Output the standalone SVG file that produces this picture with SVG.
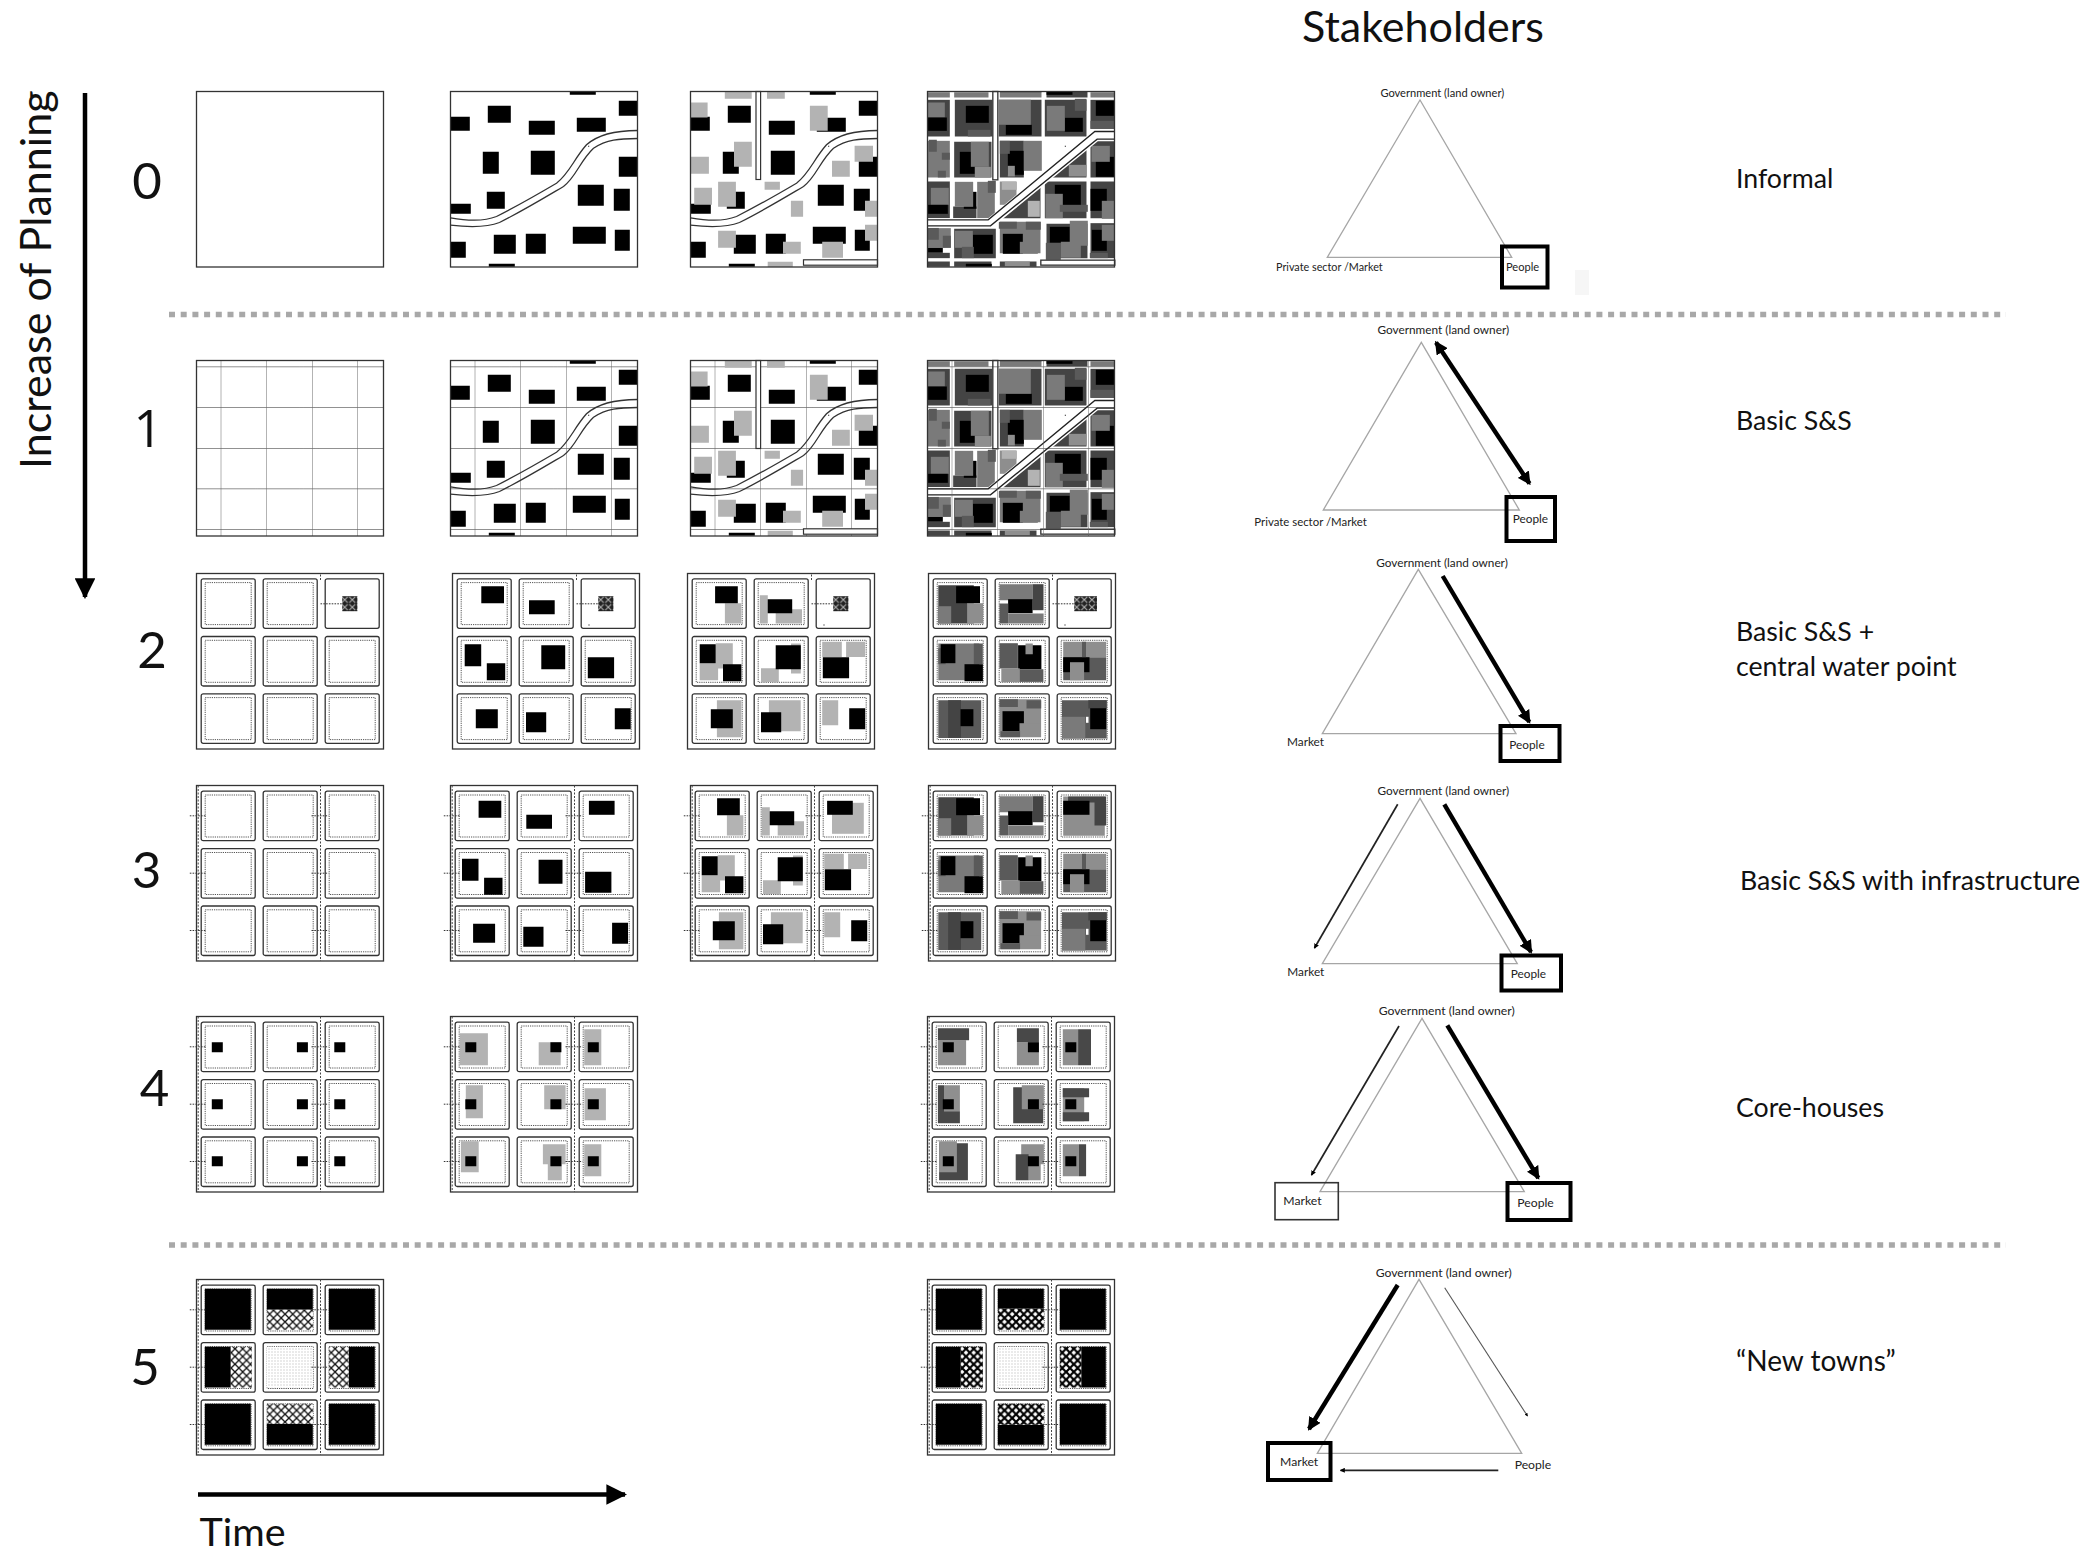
<svg xmlns="http://www.w3.org/2000/svg" width="2089" height="1551" viewBox="0 0 2089 1551">
<style>
text{font-family:"Lato","Open Sans","Liberation Sans",sans-serif;fill:#222}
.big{font-size:26.7px;fill:#111}
.sm{font-size:11.1px;fill:#222}
.n{font-size:51px;fill:#111;text-anchor:middle}
.k{fill:#000}.d{fill:#444}.m{fill:#5a5a5a}.g{fill:#7a7a7a}.l{fill:#8e8e8e}.v{fill:#b3b3b3}.w{fill:#fff}
.p{fill:none;stroke:#333;stroke-width:1.3}
.c{fill:#fff;stroke:#333;stroke-width:1.3}
.i{fill:none;stroke:#555;stroke-width:1;stroke-dasharray:1.2 1}
.vd{fill:none;stroke:#444;stroke-width:1;stroke-dasharray:2 1.5}
.st{fill:none;stroke:#333;stroke-width:1;stroke-dasharray:1.6 1.2}
.gh{fill:none;stroke:#222;stroke-width:1;stroke-dasharray:1 1}
.gv{fill:none;stroke:#666;stroke-width:1;stroke-dasharray:1 1}
.rd{fill:none;stroke:#333;stroke-width:1.3}
.rb{fill:#fff;stroke:#333;stroke-width:1.2}
.sep{fill:none;stroke:#a8a8a8;stroke-width:5.5;stroke-dasharray:6 5.7}
.tri{fill:none;stroke:#a6a6a6;stroke-width:1.3}
.box{fill:none;stroke:#000;stroke-width:4}
.thick{fill:none;stroke:#000;stroke-width:4.4;marker-end:url(#ah)}
.thin{fill:none;stroke:#222;stroke-width:1.7;marker-end:url(#ah)}
.main{fill:none;stroke:#000;stroke-width:4.5;marker-end:url(#ahb)}
</style>
<defs>
<marker id="ah" viewBox="0 0 10 10" refX="8.5" refY="5" markerWidth="3" markerHeight="3" orient="auto-start-reverse"><path d="M0 0L10 5L0 10z" fill="#000"/></marker>
<marker id="ahb" viewBox="0 0 10 10" refX="9" refY="5" markerWidth="4.6" markerHeight="4.6" orient="auto"><path d="M0 0L10 5L0 10z" fill="#000"/></marker>
<pattern id="h1" width="7.7" height="7.7" patternUnits="userSpaceOnUse"><rect width="7.7" height="7.7" fill="#fff"/><path d="M0 0L7.7 7.7M7.7 0L0 7.7" stroke="#111" stroke-width="1.3"/></pattern>
<pattern id="h2" width="7.7" height="7.7" patternUnits="userSpaceOnUse"><rect width="7.7" height="7.7" fill="#fff"/><path d="M0 0L7.7 7.7M7.7 0L0 7.7" stroke="#000" stroke-width="2.2"/></pattern>
<pattern id="hw" width="7.6" height="7.5" patternUnits="userSpaceOnUse"><rect width="7.6" height="7.5" fill="#222"/><path d="M.8 .8L6.8 6.7M6.8 .8L.8 6.7" stroke="#bbb" stroke-width="1"/></pattern>
<pattern id="hd" width="3" height="3" patternUnits="userSpaceOnUse"><rect width="3" height="3" fill="#fff"/><rect width="1" height="1" fill="#aaa"/></pattern>

<g id="cell"><rect class="c" width="54" height="49.5" rx="2"/></g>
<g id="cin"><use href="#cell"/><rect class="i" x="4" y="3.8" width="46" height="42"/></g>

<g id="f3">
<rect class="p" x="0" y="0" width="187" height="175.5" fill="#fff"/>
<use href="#cin" x="4.7" y="5.7"/><use href="#cin" x="66.7" y="5.7"/><use href="#cin" x="128.7" y="5.7"/>
<use href="#cin" x="4.7" y="63.2"/><use href="#cin" x="66.7" y="63.2"/><use href="#cin" x="128.7" y="63.2"/>
<use href="#cin" x="4.7" y="120.5"/><use href="#cin" x="66.7" y="120.5"/><use href="#cin" x="128.7" y="120.5"/>
<path class="vd" d="M1.7 0V175.5M124 0V175.5"/>
</g>
<path id="st" class="st" d="M-6.7 30.3H9M115 30.3H132M-6.7 87.7H9M115 87.7H132M-6.7 145H9M115 145H132"/>

<g id="f2">
<rect class="p" x="0" y="0" width="187" height="175.5" fill="#fff"/>
<use href="#cin" x="4.7" y="5.3"/><use href="#cin" x="66.7" y="5.3"/><use href="#cell" x="128.7" y="5.3"/>
<use href="#cin" x="4.7" y="63"/><use href="#cin" x="66.7" y="63"/><use href="#cin" x="128.7" y="63"/>
<use href="#cin" x="4.7" y="120.3"/><use href="#cin" x="66.7" y="120.3"/><use href="#cin" x="128.7" y="120.3"/>
<path class="vd" d="M124 1V8"/>
<path class="st" d="M124 30.3H146"/>
</g>

<path id="mk" class="k" d="M119.3 0h26v3.3h-26zM168.3 9.3h18.7v15h-18.7zM0 25.3h19.3v14h-19.3zM37.3 14.3h23v17h-23zM78.3 29.3h26v14h-26zM126.3 26.3h29v14h-29zM32.3 60.3h16v22h-16zM80.3 59.3h24v24h-24zM168.3 65.3h18.7v20h-18.7zM36.3 100.3h18v17h-18zM0 112.3h20.3v10h-20.3zM127.3 93.3h26v21h-26zM163.3 97.3h16v22h-16zM122.3 135.3h33v17h-33zM164.3 138.3h15v21h-15zM43.3 143.3h22v19h-22zM75.3 142.3h20v20h-20zM0 150.3h15.3v16h-15.3zM38.3 172.3h26v3h-26zM137.7 54.3h1v1h-1z"/>
<path id="mg" class="v" d="M34.3 0h26.9v7.3h-26.9zM76.5 0h17.8v7.3h-17.8zM0 11h17.1v15h-17.1zM119.4 14.3h17.8v25h-17.8zM43.5 50.3h17.8v25h-17.8zM164.1 54.3h18.4v16h-18.4zM0 65.3h18.4v17h-18.4zM141.5 69.3h17.8v16h-17.8zM74.1 90.3h15.3v8h-15.3zM3.7 96.3h17.8v17h-17.8zM27.6 90.3h17.8v25h-17.8zM100.4 109.3h12.2v16h-12.2zM174.5 109.3h12.5v16h-12.5zM174.5 133.3h12.5v16h-12.5zM27.6 139.3h17.8v17h-17.8zM92.5 150.3h17.8v12h-17.8zM131.7 150.3h20.8v16h-20.8zM77.2 170.3h25.1v5.2h-25.1z"/>
<path id="road" class="rd" d="M0 126.3C19 129.7 36 129 46 125C69 113.3 89 101.7 106 91.7C119 81.7 123 68 136 53.3C149 41.7 169 39 187 39M0 133.7C23 136.3 39 135 49 131C73 119 96 105 113 95C126 85 129 70 143 56.7C156 48 169 47 187 47"/>
<g id="roads2"><rect class="rb" x="65.5" y="0" width="4.6" height="88"/><rect class="rb" x="113" y="168.3" width="74" height="5.4"/></g>
<g id="grid"><path class="gh" d="M0 6.3H187M0 47H187M0 88H187M0 128.3H187M0 169H187"/><path class="gv" d="M24.5 0V175.5M70 0V175.5M116 0V175.5M161 0V175.5"/></g>

<g id="city" transform="scale(.3333) translate(-23,-35)">
<path class="g" d="M23 37H90V53H23zM103 37H206V53H103zM240 37H365V53H240zM512 37H585V53H512z"/>
<path class="d" d="M240 35H365V38H240zM380 35H503V53H380z"/><path class="k" d="M380 35H458V45H380z"/>
<path class="d" d="M23 60H90V170H23z"/><path class="g" d="M23 68H75V113H23z"/><path class="k" d="M23 113H81V153H23z"/>
<path class="d" d="M105 60H218V170H105z"/><path class="k" d="M138 78H207V129H138z"/><path class="m" d="M144 150H212V170H144z"/>
<path class="d" d="M237 60H365V170H237z"/><path class="k" d="M258 135H336V165H258z"/><path class="g" d="M237 60H333V135H237z"/>
<path class="d" d="M375 60H500V170H375z"/><path class="k" d="M435 114H489V156H435z"/><path class="g" d="M381 78H435V153H381z"/><path class="m" d="M465 57H500V93H465z"/>
<path class="d" d="M512 60H585V147H512z"/><path class="k" d="M528 63H585V108H528z"/><path class="m" d="M512 123H585V147H512z"/>

<path class="g" d="M23 183H90V293H23z"/><path class="m" d="M27 180H51V216H27zM66 219H90V240H66zM54 273H78V293H54z"/>
<path class="d" d="M103 186H215V293H103z"/><path class="k" d="M120 216H165V282H120z"/><path class="g" d="M153 186H207V261H153z"/><path class="l" d="M165 261H213V293H165z"/>
<path class="d" d="M240 183H312V293H240z"/><path class="k" d="M264 213H312V285H264z"/><path class="m" d="M240 183H270V222H240z"/><path class="g" d="M312 183H366V273H312z"/><path class="l" d="M264 258H285V290H264z"/>
<path class="d" d="M500 204V293H390z"/><path class="l" d="M447 255H500V290H447z"/>
<path class="d" d="M512 183H585V293H512z"/><path class="k" d="M528 231H585V291H528z"/><path class="g" d="M515 198H570V246H515z"/>

<path class="d" d="M23 305H90V415H23z"/><path class="g" d="M33 324H87V375H33z"/><path class="k" d="M23 375H84V402H23z"/>
<path class="d" d="M100 380H170V415H100z"/><path class="k" d="M132 336H170V387H132z"/><path class="g" d="M105 306H160V381H105z"/>
<path class="g" d="M172 306H225V415H172z"/><path class="m" d="M204 303H228V339H204z"/>
<path class="l" d="M240 305H290V375H240z"/><path class="v" d="M246 306H291V330H246z"/>
<path class="d" d="M362 316V415H240z"/><path class="v" d="M324 363H360V411H324z"/>
<path class="d" d="M375 305H500V415H375z"/><path class="k" d="M405 315H483V378H405z"/><path class="g" d="M377 342H429V415H377z"/><path class="m" d="M420 375H504V396H420z"/>
<path class="d" d="M512 305H585V415H512z"/><path class="k" d="M512 327H561V393H512z"/><path class="g" d="M546 363H585V417H546z"/>

<path class="g" d="M23 445H93V504H23z"/><path class="m" d="M23 444H57V480H23zM69 468H93V504H69z"/><path class="k" d="M23 504H69V519H23z"/><path class="d" d="M23 519H90V535H23z"/>
<path class="d" d="M103 447H228V535H103z"/><path class="k" d="M159 465H219V522H159z"/><path class="g" d="M105 453H159V504H105z"/><path class="m" d="M126 501H162V535H126z"/>
<path class="g" d="M240 426H362V520H240z"/><path class="m" d="M237 426H291V447H237zM318 426H363V450H318z"/><path class="k" d="M249 462H309V522H249z"/><path class="g" d="M300 486H354V522H300z"/>
<path class="d" d="M380 432H503V535H380z"/><path class="k" d="M390 441H450V489H390z"/><path class="m" d="M378 489H423V540H378z"/><path class="g" d="M450 423H504V498H450zM423 486H483V534H423z"/>
<path class="d" d="M512 430H585V535H512z"/><path class="k" d="M516 450H561V513H516z"/><path class="g" d="M546 435H585V483H546z"/><path class="m" d="M510 519H564V535H510z"/>

<path class="d" d="M23 545H90V561H23zM103 545H215V561H103zM240 545H350V561H240z"/><path class="k" d="M138 552H216V561H138z"/><path class="l" d="M255 546H330V561H255z"/>

<path class="w" d="M23 415H205L525 150H585V184H534L216 444H23z"/>
<path d="M23 420H205L525 155H585M23 438H212L532 178H585" fill="none" stroke="#222" stroke-width="4"/>
<rect x="219" y="35" width="15" height="265" fill="#fff" stroke="#333" stroke-width="4"/>
<rect x="363" y="541" width="222" height="15" fill="#fff" stroke="#333" stroke-width="4"/>
<path class="k" d="M435 198h3v3h-3z"/>
</g>

<path id="b2" class="k" d="M28.8 12.7h22.7v17h-22.7zM76.5 26.7h25.7v14h-25.7zM12.2 70.7h16.5v22h-16.5zM34.3 89.7h18.4v17h-18.4zM88.8 71.7h23.9v24h-23.9zM135.3 83.7h26.3v21h-26.3zM23.3 135.7h22v19h-22zM73.5 138.7h20.2v20h-20.2zM162.3 134.7h15.9v21h-15.9z"/>

<g id="c2">
<path class="v" d="M37.4 29.7h16.5v20.3h-16.5zM72.3 21.7h8v28.3h-8zM88.2 35.7h26.3v14.3h-26.3zM28.2 69.7h17.1v25.3h-17.1zM12.2 89.7h18.4v17h-18.4zM103.5 70h9.8v30h-9.8zM73.5 94.7h17.8v13.7h-17.8zM134.7 68.3h19.6v15.3h-19.6zM158.6 68.3h19v15.3h-19zM29.4 126.7h24.5v37h-24.5zM81.4 126.7h31.8v31h-31.8zM134.7 126.7h16v25h-16z"/>
<path class="k" d="M27.6 12.7h22.7v17h-22.7zM80.2 25.7h24.5v14h-24.5zM12.2 70.7h16v19h-16zM35.5 90.7h18.4v17h-18.4zM88.2 71.7h25.1v24h-25.1zM135.3 83.7h26.3v21h-26.3zM23.3 135.7h22v19h-22zM73.5 138.7h20.2v20h-20.2zM161.7 134.7h16v21h-16z"/>
</g>

<g id="c3">
<path class="d" d="M9.8 11.7h35.5v38.3h-35.5z"/><path class="k" d="M27.6 12.7h23.9v17h-23.9z"/><path class="g" d="M9.8 32.7h12.9v17.3h-12.9z"/><path class="l" d="M38.6 29.7h16v20.3h-16z"/>
<path class="g" d="M71 10.7h33v16h-33z"/><path class="d" d="M104 10.7h11v26h-11z"/><path class="k" d="M79.6 25.7h24.5v14h-24.5z"/><path class="m" d="M71 30h8.6v20h-8.6z"/><path class="g" d="M79.6 40h35.5v10h-35.5z"/>
<path class="g" d="M9.8 70h41v36.7h-41z"/><path class="m" d="M9.8 74.7h7.3v16h-7.3z"/><path class="k" d="M12.2 70.7h14.7v19h-14.7z"/><path class="m" d="M45.3 70h9v20.7h-9z"/><path class="k" d="M36 90.7h18.4v17h-18.4z"/>
<path class="m" d="M71 69.7h18.4v25.3h-18.4z"/><path class="k" d="M89.6 71.7h23.3v24h-23.3z"/><path class="l" d="M97 70h7.3v10.7h-7.3zM72.8 94.7h18.4v13.7h-18.4z"/><path class="m" d="M91 95.7h23.9v12.7h-23.9z"/>
<path class="m" d="M134.7 83.7h42.9v23h-42.9z"/><path class="l" d="M134.7 68.3h42.9v15.3h-42.9z"/><path class="k" d="M134.7 83.7h26.3v15h-26.3z"/><path class="l" d="M141.5 88.7h14.1v18h-14.1z"/><path class="m" d="M153.5 68.3h4v15.3h-4z"/>
<path class="m" d="M9.8 126.7h42.9v37.7h-42.9z"/><path class="d" d="M19.6 126.7h12.9v37.7h-12.9z"/><path class="k" d="M32 135.7h12.9v17h-12.9z"/>
<path class="l" d="M71 125.7h41.6v38h-41.6z"/><path class="m" d="M71 125.7h18.4v7.7h-18.4zM98 126.7h14.7v8.3h-14.7z"/><path class="k" d="M74 137.7h21.4v20h-21.4z"/><path class="l" d="M91 149.7h19.6v12h-19.6z"/><path class="m" d="M72 157.7h19.6v6h-19.6z"/>
<path class="m" d="M133.5 126.7h44.7v38.3h-44.7z"/><path class="d" d="M159.8 126.7h18.4v8.3h-18.4z"/><path class="g" d="M133.5 143.3h23.3v21.7h-23.3z"/><path class="k" d="M161.7 134.7h16v21h-16z"/><path class="w" d="M157.5 143.3h2.5v6h-2.5z"/>
</g>

<path id="core" class="k" d="M15.3 25.7h11v10h-11zM100.4 25.7h11v10h-11zM137.8 25.7h11v10h-11zM15.3 82.7h11v10h-11zM100.4 82.7h11v10h-11zM137.8 82.7h11v10h-11zM15.3 139.7h11v10h-11zM100.4 139.7h11v10h-11zM137.8 139.7h11v10h-11z"/>
</defs>

<rect width="2089" height="1551" fill="#fff"/>

<g id="headings">
<text x="1423" y="42" style="font-size:43px;fill:#111" text-anchor="middle">Stakeholders</text>
<text transform="translate(51,469) rotate(-90)" style="font-size:43px;fill:#111">Increase of Planning</text>
<text x="199.5" y="1546" style="font-size:39.5px;fill:#111">Time</text>
<text class="n" x="147" y="199">0</text>
<text class="n" x="148" y="447" style="font-family:'Open Sans',sans-serif;font-weight:400">1</text>
<text class="n" x="152" y="668">2</text>
<text class="n" x="146.5" y="888">3</text>
<text class="n" x="154.5" y="1106">4</text>
<text class="n" x="145" y="1385">5</text>
<text class="big" x="1736" y="188">Informal</text>
<text class="big" x="1736" y="430">Basic S&amp;S</text>
<text class="big" x="1736" y="641">Basic S&amp;S +</text>
<text class="big" x="1736" y="676">central water point</text>
<text class="big" x="1740" y="890">Basic S&amp;S with infrastructure</text>
<text class="big" x="1736" y="1117">Core-houses</text>
<text class="big" x="1736" y="1371" style="font-size:28px">“New towns”</text>
</g>

<g id="separators">
<path class="sep" d="M169 314.5H2006"/>
<path class="sep" d="M169 1245H2006"/>
<rect x="1575" y="270" width="14" height="25" fill="#f6f6f6"/>
</g>

<g id="row0">
<g id="p0-1" transform="translate(196.5,91.5)"><rect class="p" width="187" height="175.5"/></g>
<g id="p0-2" transform="translate(450.5,91.5)"><use href="#mk"/><use href="#road"/><rect class="p" width="187" height="175.5"/></g>
<g id="p0-3" transform="translate(690.5,91.5)"><use href="#mk"/><use href="#mg"/><use href="#road"/><use href="#roads2"/><rect class="p" width="187" height="175.5"/></g>
<g id="p0-4" transform="translate(927.5,91.5)"><use href="#city"/><rect class="p" width="187" height="175.5"/></g>
</g>

<g id="row1">
<g id="p1-1" transform="translate(196.5,360.5)"><use href="#grid"/><rect class="p" width="187" height="175.5"/></g>
<g id="p1-2" transform="translate(450.5,360.5)"><use href="#grid"/><use href="#mk"/><use href="#road"/><rect class="p" width="187" height="175.5"/></g>
<g id="p1-3" transform="translate(690.5,360.5)"><use href="#grid"/><use href="#mk"/><use href="#mg"/><use href="#road"/><use href="#roads2"/><rect class="p" width="187" height="175.5"/></g>
<g id="p1-4" transform="translate(927.5,360.5)"><use href="#city"/><use href="#grid"/><rect class="p" width="187" height="175.5"/></g>
</g>

<g id="row2">
<g id="p2-1" transform="translate(196.5,573.5)"><use href="#f2"/><rect x="145.7" y="22.7" width="15.2" height="15" fill="url(#hw)"/></g>
<g id="p2-2" transform="translate(452.5,573.5)"><use href="#f2"/><use href="#b2"/><rect x="145.7" y="22.7" width="15.2" height="15" fill="url(#hw)"/><rect x="136" y="51" width="1" height="1" fill="#000"/></g>
<g id="p2-3" transform="translate(687.5,573.5)"><use href="#f2"/><use href="#c2"/><rect x="145.7" y="22.7" width="15.2" height="15" fill="url(#hw)"/><rect x="136" y="51" width="1" height="1" fill="#000"/></g>
<g id="p2-4" transform="translate(928.5,573.5)"><use href="#f2"/><use href="#c3"/><rect x="145.7" y="22.7" width="22.8" height="15" fill="url(#hw)"/><rect x="136" y="51" width="1" height="1" fill="#000"/></g>
</g>

<g id="row3">
<g id="p3-1" transform="translate(196.5,785.5)"><use href="#f3"/><use href="#st"/></g>
<g id="p3-2" transform="translate(450.5,785.5)"><use href="#f3"/><use href="#b2" x="-.7" y="2.6"/><path class="k" d="M138.4 15.3h25.7v14h-25.7z"/><use href="#st"/></g>
<g id="p3-3" transform="translate(690.5,785.5)"><use href="#f3"/><use href="#c2" x="-1"/><path class="v" d="M141.5 17.3h31.8v31h-31.8z"/><path class="k" d="M136.6 15.3h25.7v14h-25.7z"/><use href="#st"/></g>
<g id="p3-4" transform="translate(928.5,785.5)"><use href="#f3"/><use href="#c3"/><path class="l" d="M134.7 11h41.6v39.3h-41.6z"/><path class="d" d="M139.6 11h37.9v6h-37.9zM166 16h11.7v24h-11.7z"/><path class="k" d="M134.7 15.3h26.3v14h-26.3z"/><use href="#st"/></g>
</g>

<g id="row4">
<g id="p4-1" transform="translate(196.5,1016.5)"><use href="#f3"/><use href="#core"/><use href="#st"/></g>
<g id="p4-2" transform="translate(450.5,1016.5)"><use href="#f3"/>
<path class="v" d="M9.2 16.7h28.2v32h-28.2zM88.2 25.7h22v23h-22zM133.7 12.7h17.1v36h-17.1zM15.3 68.7h17.1v33h-17.1zM93.7 68.7h21.4v24h-21.4zM134 71.7h21.4v32h-21.4zM10.4 124.7h17.8v31h-17.8zM92.4 127.7h22.7v20h-22.7zM97.3 147.7h14v16h-14zM133.7 127.7h17.1v32h-17.1z"/>
<use href="#core" x="-.5"/><use href="#st"/></g>
<g id="p4-4" transform="translate(927.5,1016.5)"><use href="#f3"/>
<path fill="#8f8f8f" d="M10.4 23.7h28.2v25h-28.2zM89.4 25.7h22v23h-22zM135.3 12.7h15.3v36h-15.3zM16.5 68.7h15.9v26h-15.9z"/>
<path fill="#484848" d="M10.4 11.7h31.2v12h-31.2zM89.4 11.7h22v14h-22zM150.6 12.7h12.9v36h-12.9zM10.4 68.7h6.1v26h-6.1zM10.4 94.7h22v12h-22zM85.7 70.7h30v36h-30z"/>
<path fill="#8f8f8f" d="M94.3 68.7h22v24h-22zM135.3 71.7h21.4v33h-21.4z"/>
<path fill="#484848" d="M135.3 71.7h26.3v9h-26.3zM135.3 95.7h26.3v9h-26.3zM11.6 126.7h28.8v37h-28.8z"/>
<path fill="#8f8f8f" d="M11.6 124.7h17.8v31h-17.8zM93.7 127.7h22.7v20h-22.7zM101 147.7h12.2v16h-12.2zM135.3 127.7h16v32h-16z"/>
<path fill="#484848" d="M88.2 137.7h12.9v26h-12.9zM151.3 127.7h7.3v32h-7.3z"/>
<use href="#core"/><use href="#st"/></g>
</g>

<g id="row5">
<g id="p5-1" transform="translate(196.5,1279.5)"><use href="#f3"/>
<path class="k" d="M8.3 9.3h46v41h-46zM70.3 9.3h46v21h-46zM132.3 9.3h46v41h-46zM8.3 67.3h26v40.7h-26zM152.3 67.3h26v40.7h-26zM8.3 124.3h46v41h-46zM70.3 144.3h46v21h-46zM132.3 124.3h46v41h-46z"/>
<path fill="url(#h1)" d="M70.3 30.3h46v20h-46zM34.3 67.3h21v40.7h-21zM132.3 67.3h20v40.7h-20zM70.3 124.3h46v20h-46z"/>
<rect x="70.3" y="67.3" width="46" height="40.7" fill="url(#hd)"/><use href="#st"/></g>
<g id="p5-4" transform="translate(927.5,1279.5)"><use href="#f3"/>
<path class="k" d="M8.3 9.3h46v41h-46zM70.3 9.3h46v20h-46zM132.3 9.3h46v41h-46zM8.3 67.3h25v40.7h-25zM153.7 67.3h24.6v40.7h-24.6zM8.3 124.3h46v41h-46zM70.3 145.3h46v20h-46zM132.3 124.3h46v41h-46z"/>
<path fill="url(#h2)" d="M70.3 29.3h46v21h-46zM33.3 67.3h22v40.7h-22zM132.3 67.3h21.4v40.7h-21.4zM70.3 124.3h46v21h-46z"/>
<rect x="70.3" y="67.3" width="46" height="40.7" fill="url(#hd)"/><use href="#st"/></g>
</g>

<g id="stakeholders-0">
<path class="tri" d="M1420 100L1327.3 257.3H1511.7z"/>
<rect class="box" x="1502" y="246.5" width="45.5" height="41"/>
<text class="sm" x="1442.3" y="97.3" text-anchor="middle">Government (land owner)</text>
<text class="sm" x="1276" y="271.3" style="font-size:10.8px">Private sector /Market</text>
<text class="sm" x="1506" y="271.3">People</text>
</g>
<g id="stakeholders-1">
<path class="tri" d="M1421.3 342.3L1323.3 510H1519.3z"/>
<rect class="box" x="1506.5" y="497" width="48.5" height="44"/>
<text class="sm" x="1443.3" y="333.7" text-anchor="middle" style="font-size:11.8px">Government (land owner)</text>
<text class="sm" x="1254.3" y="526.3" style="font-size:11.4px">Private sector /Market</text>
<text class="sm" x="1512.7" y="523" style="font-size:11.8px">People</text>
</g>
<g id="stakeholders-2">
<path class="tri" d="M1418.3 569.3L1322.3 733.7H1516z"/>
<rect class="box" x="1500.5" y="726" width="59" height="35"/>
<text class="sm" x="1442" y="566.7" text-anchor="middle" style="font-size:11.8px">Government (land owner)</text>
<text class="sm" x="1287" y="746" style="font-size:11.8px">Market</text>
<text class="sm" x="1509.3" y="749" style="font-size:11.8px">People</text>
</g>
<g id="stakeholders-3">
<path class="tri" d="M1420 798.3L1322.3 963.7H1517.3z"/>
<rect class="box" x="1501.5" y="955.5" width="59.5" height="35"/>
<text class="sm" x="1443.3" y="794.7" text-anchor="middle" style="font-size:11.8px">Government (land owner)</text>
<text class="sm" x="1287.3" y="976" style="font-size:11.8px">Market</text>
<text class="sm" x="1510.7" y="978.3" style="font-size:11.8px">People</text>
</g>
<g id="stakeholders-4">
<path class="tri" d="M1422 1018.3L1320 1191.7H1524.3z"/>
<rect x="1275" y="1182.7" width="63.3" height="37" fill="none" stroke="#333" stroke-width="1.6"/>
<rect class="box" x="1507.5" y="1183" width="63" height="37"/>
<text class="sm" x="1446.7" y="1015" text-anchor="middle" style="font-size:12.2px">Government (land owner)</text>
<text class="sm" x="1283.3" y="1204.5" style="font-size:12.2px">Market</text>
<text class="sm" x="1517.3" y="1207" style="font-size:12.2px">People</text>
</g>
<g id="stakeholders-5">
<path class="tri" d="M1419 1279.3L1317.3 1453.3H1521.7z"/>
<rect class="box" x="1268" y="1443" width="62.5" height="37"/>
<text class="sm" x="1443.7" y="1276.7" text-anchor="middle" style="font-size:12.2px">Government (land owner)</text>
<text class="sm" x="1280" y="1466" style="font-size:12.2px">Market</text>
<text class="sm" x="1514.7" y="1469" style="font-size:12.2px">People</text>
</g>

<g id="connectors">
<path class="main" d="M85 93V597"/>
<path class="main" d="M198 1494.5H625"/>
<path class="thick" style="marker-start:url(#ah)" d="M1436 342.5L1529.5 483.5"/>
<path class="thick" d="M1442.7 576L1529.3 722"/>
<path class="thick" d="M1444.3 804.3L1531 952"/>
<path class="thin" d="M1397.7 804.3L1314.5 948"/>
<path class="thick" d="M1447.3 1025.3L1538.3 1178"/>
<path class="thin" d="M1399 1026L1311.5 1175"/>
<path class="thick" d="M1397.7 1285L1309 1429"/>
<path d="M1444.7 1287.7L1527.5 1416" fill="none" stroke="#555" stroke-width="1.1" marker-end="url(#ah)"/>
<path class="thin" d="M1498.3 1470.3H1340.5"/>
</g>
</svg>
